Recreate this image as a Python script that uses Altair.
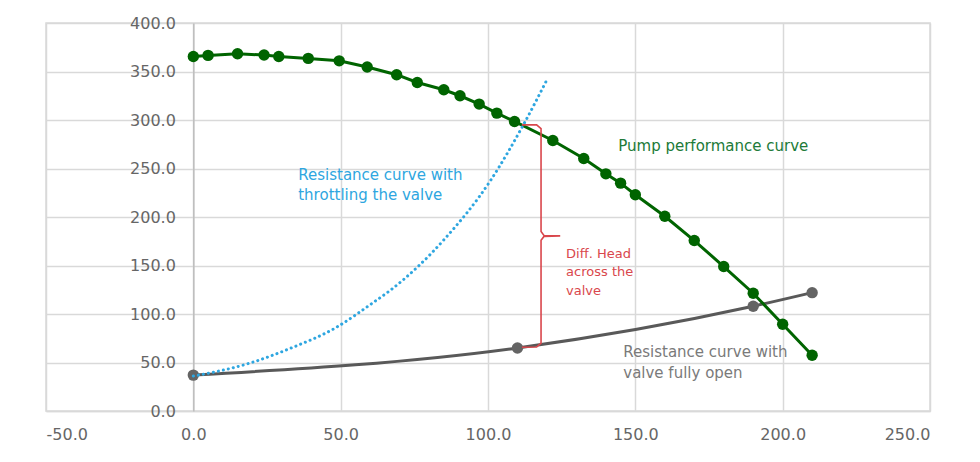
import altair as alt
import pandas as pd

# Pump performance curve (green)
pump_x = [0, 5, 15, 24, 29, 39, 49.5, 59, 69, 76, 85, 90.5, 97, 103, 109,
          122, 132.5, 140, 145, 150, 160, 170, 180, 190, 200, 210]
pump_y = [365.5, 366.6, 368.3, 367, 365.5, 363.5, 361, 354.6, 346.7, 338.7,
          331.2, 325, 316.4, 307.1, 298.5, 278.9, 260.3, 244.5, 234.9, 222.9,
          200.8, 175.7, 148.9, 121.4, 89.4, 57.5]

# Resistance curve, valve fully open (grey)
open_x = [0, 110, 190, 210]
open_y = [37, 65, 108, 122]

# Resistance curve with throttling (blue dotted)
thr_x = [0, 19, 33, 48, 61, 67, 85, 101, 112, 120]
thr_y = [36, 49.2, 64.7, 85.3, 111.7, 124.8, 176.4, 238.3, 295, 341.5]

# Brace showing the differential head (red)
brace_x = [111.5, 116.5, 118, 118, 118, 119, 124.5, 119, 118, 118, 116.5, 111.5]
brace_y = [295, 295, 291, 286.5, 185, 181, 180.5, 180, 176, 70, 66, 65.7]

# Annotation texts
blue_text = ["Resistance curve with", "throttling the valve"]
blue_x = [35.6, 35.6]
blue_y = [243.5, 222.8]
green_text = ["Pump performance curve"]
green_x = [144.2]
green_y = [272.7]
red_text = ["Diff. Head", "across the", "valve"]
red_x = [126.5, 126.5, 126.5]
red_y = [162, 143.4, 123.8]
grey_text = ["Resistance curve with", "valve fully open"]
grey_x = [145.9, 145.9]
grey_y = [60.9, 39.2]

x_ticks = [-50, 0, 50, 100, 150, 200, 250]
y_ticks = [0, 50, 100, 150, 200, 250, 300, 350, 400]

FONT = "DejaVu Sans"
W, H = 884, 388

x_scale = alt.Scale(domain=[-50, 250], nice=False, zero=False)
y_scale = alt.Scale(domain=[0, 400], nice=False)

x_axis = alt.Axis(values=x_ticks, title=None, ticks=False, labelPadding=15,
                  labelFontSize=16, labelColor="#666666", labelFont=FONT,
                  labelExpr="(datum.value < 0 ? '-' : '') + format(abs(datum.value), '.1f')",
                  domainColor="#d9d9d9", domainWidth=1.5,
                  gridColor="#d9d9d9", gridWidth=1.5)
y_axis = alt.Axis(values=y_ticks, title=None, ticks=False, labelPadding=18,
                  labelFontSize=16, labelColor="#666666", labelFont=FONT,
                  format=".1f", offset=-W * 50 / 300,
                  domainColor="#bdbdbd", domainWidth=1.5,
                  gridColor="#d9d9d9", gridWidth=1.5)


def enc(ch):
    return ch.encode(
        x=alt.X("x:Q", scale=x_scale, axis=x_axis),
        y=alt.Y("y:Q", scale=y_scale, axis=y_axis),
    )


pump_df = pd.DataFrame({"x": pump_x, "y": pump_y})
open_df = pd.DataFrame({"x": open_x, "y": open_y})
thr_df = pd.DataFrame({"x": thr_x, "y": thr_y})
brace_df = pd.DataFrame({"x": brace_x, "y": brace_y, "o": list(range(len(brace_x)))})

open_line = enc(alt.Chart(open_df).mark_line(color="#595959", strokeWidth=3,
                                              interpolate="monotone"))
open_pts = enc(alt.Chart(open_df).mark_circle(color="#646464", size=130, opacity=1))
pump_line = enc(alt.Chart(pump_df).mark_line(color="#006400", strokeWidth=3))
pump_pts = enc(alt.Chart(pump_df).mark_circle(color="#006400", size=130, opacity=1))
thr_line = enc(alt.Chart(thr_df).mark_line(color="#2ea6e0", strokeWidth=3,
                                           strokeDash=[0.1, 5], strokeCap="round",
                                           interpolate="monotone"))
brace = alt.Chart(brace_df).mark_line(color="#d9474c", strokeWidth=1.6).encode(
    x=alt.X("x:Q", scale=x_scale, axis=x_axis),
    y=alt.Y("y:Q", scale=y_scale, axis=y_axis),
    order="o:Q",
)


def text_layer(texts, xs, ys, color, size):
    df = pd.DataFrame({"x": xs, "y": ys, "t": texts})
    return enc(alt.Chart(df).mark_text(align="left", baseline="middle",
                                       font=FONT, fontSize=size, color=color)
               ).encode(text="t:N")


layers = [
    open_line, open_pts, pump_line, pump_pts, thr_line, brace,
    text_layer(blue_text, blue_x, blue_y, "#2ea6e0", 15),
    text_layer(green_text, green_x, green_y, "#217a38", 15),
    text_layer(red_text, red_x, red_y, "#d9474c", 13),
    text_layer(grey_text, grey_x, grey_y, "#7a7a7a", 15),
]

chart = alt.layer(*layers).properties(
    width=W, height=H,
    padding={"left": 38, "top": 15, "right": 40, "bottom": 40},
    autosize=alt.AutoSizeParams(type="none"),
    background="white",
).configure_view(stroke="#d9d9d9", strokeWidth=1.5)

chart.save("out.html", embed_options={"renderer": "svg", "actions": False})
